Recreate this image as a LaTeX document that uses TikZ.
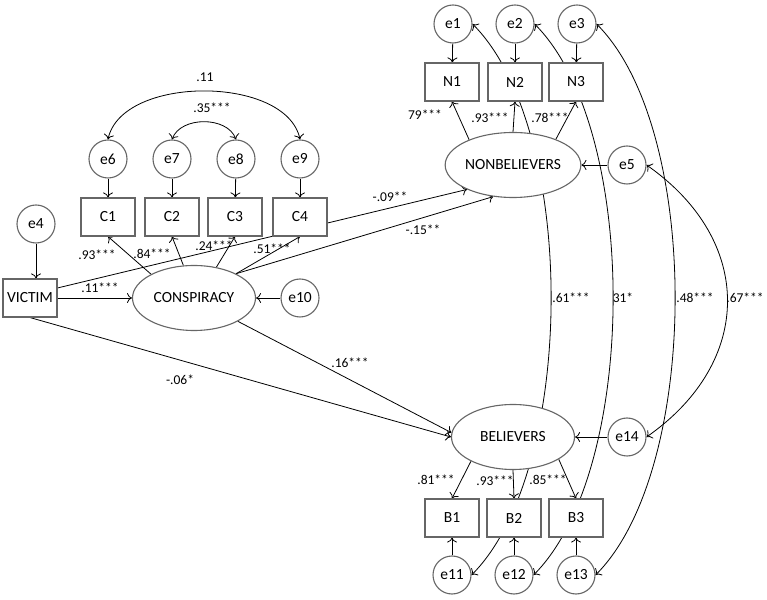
\documentclass[tikz,border=0pt]{standalone}
\usepackage{fontspec}
\setmainfont{Carlito}
\usetikzlibrary{shapes.geometric,backgrounds,arrows.meta}

\begin{document}
\begin{tikzpicture}[x=1pt,y=1pt]
\tikzstyle{every node}+=[inner sep=0pt]
\tikzstyle{err}=[circle, draw=black!60, line width=1.1pt, fill=white, minimum size=38pt, font=\fontsize{15.5}{15.5}\selectfont]
\tikzstyle{obs}=[rectangle, draw=black!60, line width=1.1pt, fill=white, minimum width=54pt, minimum height=38pt, font=\fontsize{15.5}{15.5}\selectfont]
\tikzstyle{lat}=[ellipse, draw=black!60, line width=1.1pt, fill=white, minimum width=123pt, minimum height=65pt, font=\fontsize{15.5}{15.5}\selectfont]
\tikzstyle{coef}=[font=\fontsize{13.5}{13.5}\selectfont]
\tikzstyle{arr}=[-{To[length=5pt,width=10pt]}, line width=0.8pt]
\tikzstyle{cov}=[{To[length=5pt,width=10pt]}-{To[length=5pt,width=10pt]}, line width=0.8pt]
\useasboundingbox (0,0) rectangle (767,599);
% conspiracy block
\node[err] (e6) at (108,440) {e6};
\node[err] (e7) at (172,440) {e7};
\node[err] (e8) at (236,440) {e8};
\node[err] (e9) at (300,440) {e9};
\node[obs] (C1) at (108,382) {C1};
\node[obs] (C2) at (172,382) {C2};
\node[obs] (C3) at (235,382) {C3};
\node[obs] (C4) at (300,382) {C4};
\node[err] (e4) at (36,375) {e4};
\node[obs] (victim) at (30,301) {VICTIM};
\node[lat] (cons) at (194,301) {CONSPIRACY};
\node[err] (e10) at (300,301) {e10};
% nonbelievers block
\node[err] (e1) at (453,575) {e1};
\node[err] (e2) at (515,575) {e2};
\node[err] (e3) at (577,575) {e3};
\node[obs] (N1) at (452,517) {N1};
\node[obs] (N2) at (515,517) {N2};
\node[obs] (N3) at (576,517) {N3};
\node[lat] (nb) at (513,434) {NONBELIEVERS};
\node[err] (e5) at (627,434) {e5};
% believers block
\node[lat] (bel) at (513,162) {BELIEVERS};
\node[err] (e14) at (627,162) {e14};
\node[obs] (B1) at (452,81) {B1};
\node[obs] (B2) at (514,81) {B2};
\node[obs] (B3) at (576,81) {B3};
\node[err] (e11) at (452,24) {e11};
\node[err] (e12) at (514,24) {e12};
\node[err] (e13) at (576,24) {e13};

\begin{scope}[on background layer]
% error terms
\draw[arr] (e6) -- (C1);
\draw[arr] (e7) -- (C2);
\draw[arr] (e8) -- (C3);
\draw[arr] (e9) -- (C4);
\draw[arr] (e4) -- (e4 |- victim.north);
\draw[arr] (e10) -- (cons);
\draw[arr] (e1) -- (N1);
\draw[arr] (e2) -- (N2);
\draw[arr] (e3) -- (N3);
\draw[arr] (e5) -- (nb);
\draw[arr] (e14) -- (bel);
\draw[arr] (e11) -- (B1);
\draw[arr] (e12) -- (B2);
\draw[arr] (e13) -- (B3);
% loadings
\draw[arr] (cons.151) -- (C1.south);
\draw[arr] (cons.108) -- (C2.south);
\draw[arr] (cons.54) -- (C3.south);
\draw[arr] (cons.30) -- (C4.south);
\draw[arr] (nb.150) -- (N1.south);
\draw[arr] (nb.north) -- (N2.south);
\draw[arr] (nb.31) -- (N3.south);
\draw[arr] (bel.210) -- (B1.north);
\draw[arr] (bel.south) -- (B2.north);
\draw[arr] (bel.334) -- (B3.north);
% structural paths
\draw[arr] (victim.east) -- (cons.west);
\draw[arr] (victim.20) -- (nb.208);
\draw[arr] (cons.30) -- (nb.238);
\draw[arr] (victim.south) -- (bel.west);
\draw[arr] (cons.-28) -- (bel.176);
% covariances
\draw[cov] (e6.north) to[out=78,in=102,looseness=0.88] (e9.north);
\draw[cov] (e7.north) to[out=70,in=110] (e8.north);
\draw[cov] (e1.east) to[out=-45,in=45,looseness=0.69] (e11.east);
\draw[cov] (e2.east) to[out=-45,in=45,looseness=0.69] (e12.east);
\draw[cov] (e3.east) to[out=-45,in=45,looseness=0.69] (e13.east);
\draw[cov] (e5.east) to[out=-35,in=35,looseness=1.24] (e14.east);
\end{scope}

% coefficients
\node[coef] (k11) at (205,522) {.11};
\node[coef] (k35) at (212,491) {.35***};
\node[coef] (kc1) at (97,344) {.93***};
\node[coef] (kc2) at (152,345) {.84***};
\node[coef] (kc3) at (214,353) {.24***};
\node[coef] (kc4) at (272,350) {.51***};
\node[coef] (kvc) at (100,311) {.11***};
\node[coef] (kvn) at (390,402) {-.09**};
\node[coef] (kcn) at (423,369) {-.15**};
\node[coef] (kvb) at (180,219) {-.06*};
\node[coef] (kcb) at (350,236) {.16***};
\node[coef] (kn1) at (425,484) {79***};
\node[coef] (kn2) at (490,481) {.93***};
\node[coef] (kn3) at (550,481) {.78***};
\node[coef] (k61) at (571,301) {.61***};
\node[coef] (k31) at (623,301) {31*};
\node[coef] (k48) at (695,301) {.48***};
\node[coef] (k67) at (745,301) {.67***};
\node[coef] (kb1) at (436,119) {.81***};
\node[coef] (kb2) at (495,118) {.93***};
\node[coef] (kb3) at (548,119) {.85***};
\end{tikzpicture}
\end{document}
